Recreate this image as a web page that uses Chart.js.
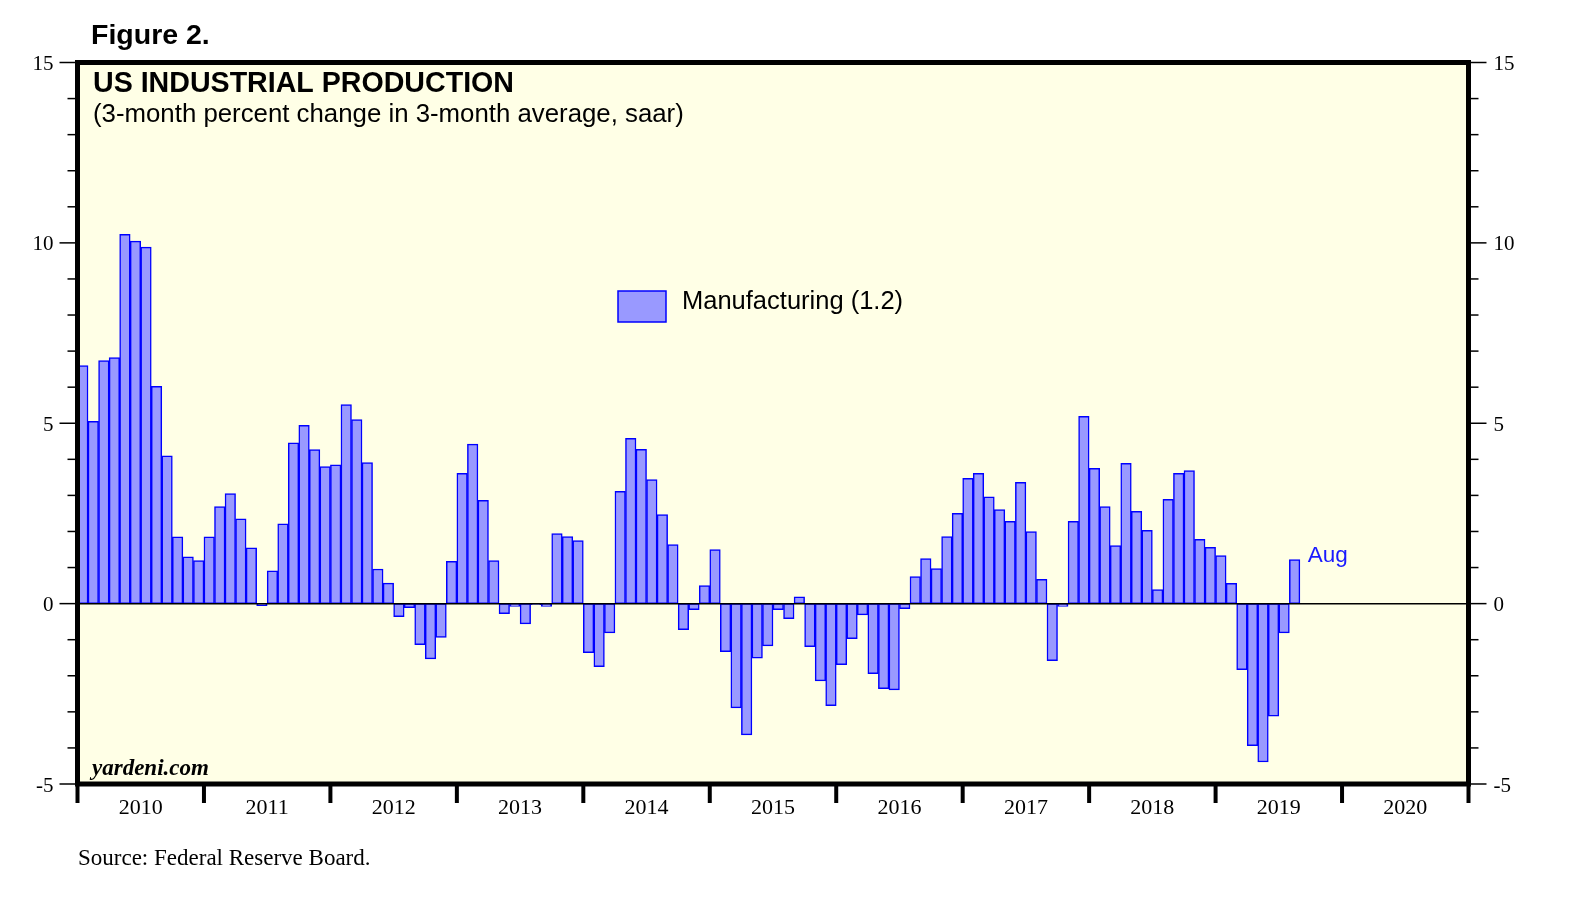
<!DOCTYPE html>
<html>
<head>
<meta charset="utf-8">
<title>US Industrial Production</title>
<script src="https://cdn.jsdelivr.net/npm/chart.js@4.4.1/dist/chart.umd.min.js"></script>
<style>
  html, body { margin: 0; padding: 0; background: #fff; }
  #wrap { width: 1580px; height: 906px; }
</style>
</head>
<body>
<div id="wrap"><canvas id="graph_ip" width="1580" height="906"></canvas></div>
<script>
// Dados

const anos = ["2010", "2011", "2012", "2013", "2014", "2015", "2016", "2017", "2018", "2019", "2020"];
const meses = ["Jan", "Feb", "Mar", "Apr", "May", "Jun", "Jul", "Aug", "Sep", "Oct", "Nov", "Dec"];

// Manufacturing, 3-month % change in 3-month average, saar (Jan 2010 - Aug 2019)
const mfg2010 = [6.6, 5.05, 6.74, 6.82, 10.24, 10.05, 9.88, 6.02, 4.1, 1.85, 1.3, 1.19];
const mfg2011 = [1.85, 2.69, 3.05, 2.35, 1.55, -0.06, 0.91, 2.21, 4.46, 4.94, 4.27, 3.8];
const mfg2012 = [3.85, 5.52, 5.1, 3.91, 0.96, 0.57, -0.36, -0.11, -1.14, -1.53, -0.94, 1.17];
const mfg2013 = [3.61, 4.42, 2.86, 1.19, -0.28, -0.08, -0.56, -0.03, -0.08, 1.94, 1.86, 1.75];
const mfg2014 = [-1.36, -1.75, -0.81, 3.11, 4.58, 4.28, 3.44, 2.47, 1.64, -0.72, -0.17, 0.5];
const mfg2015 = [1.5, -1.33, -2.89, -3.64, -1.51, -1.17, -0.17, -0.42, 0.19, -1.19, -2.14, -2.83];
const mfg2016 = [-1.69, -0.97, -0.31, -1.94, -2.36, -2.39, -0.14, 0.75, 1.25, 0.97, 1.86, 2.5];
const mfg2017 = [3.47, 3.61, 2.96, 2.61, 2.28, 3.36, 2.0, 0.67, -1.58, -0.08, 2.28, 5.19];
const mfg2018 = [3.75, 2.69, 1.61, 3.89, 2.56, 2.03, 0.39, 2.89, 3.61, 3.69, 1.78, 1.56];
const mfg2019 = [1.33, 0.56, -1.83, -3.94, -4.39, -3.12, -0.81, 1.22];

const yTicks = [-5, 0, 5, 10, 15];
const yMin = -5;
const yMax = 15;

// Monta rótulos mensais e a série

const rotulos = [];
anos.forEach((ano) => meses.forEach((m) => rotulos.push(m + " " + ano)));

const manufacturing = [].concat(
  mfg2010, mfg2011, mfg2012, mfg2013, mfg2014,
  mfg2015, mfg2016, mfg2017, mfg2018, mfg2019
);

const SANS = '"Liberation Sans", Arial, sans-serif';
const SERIF = '"Liberation Serif", "Times New Roman", serif';

// Plugin que desenha o fundo, moldura, eixos e textos

const moldura = {
  id: "moldura",
  beforeDatasetsDraw(chart) {
    const { ctx, chartArea: a } = chart;
    ctx.save();
    ctx.fillStyle = "#FFFFE6";
    ctx.fillRect(a.left, a.top, a.right - a.left, a.bottom - a.top);
    ctx.restore();
  },
  afterDatasetsDraw(chart) {
    const { ctx, chartArea: a, scales } = chart;
    const x = scales.x;
    const y = scales.y;

    function linha(x1, y1, x2, y2) {
      ctx.beginPath();
      ctx.moveTo(x1, y1);
      ctx.lineTo(x2, y2);
      ctx.stroke();
    }

    ctx.save();
    ctx.strokeStyle = "#000";

    // linha do zero
    ctx.lineWidth = 1.5;
    const y0 = y.getPixelForValue(0);
    linha(a.left, y0, a.right, y0);

    // marcas do eixo y (esquerda e direita)
    ctx.fillStyle = "#000";
    ctx.font = "21px " + SERIF;
    ctx.textBaseline = "middle";
    for (let v = yMin; v <= yMax; v++) {
      const py = y.getPixelForValue(v);
      const major = yTicks.includes(v);
      const len = major ? 18 : 10;
      ctx.lineWidth = 1.5;
      linha(a.left - len, py, a.left, py);
      linha(a.right, py, a.right + len, py);
      if (major) {
        ctx.textAlign = "right";
        ctx.fillText(String(v), a.left - 24, py + 2);
        ctx.textAlign = "left";
        ctx.fillText(String(v), a.right + 25, py + 2);
      }
    }

    // marcas e rótulos dos anos
    const passo = x.getPixelForValue(1) - x.getPixelForValue(0);
    ctx.lineWidth = 4;
    ctx.font = "22px " + SERIF;
    ctx.textAlign = "center";
    ctx.textBaseline = "alphabetic";
    for (let i = 0; i <= anos.length; i++) {
      const px = x.getPixelForValue(i * 12) - passo / 2;
      linha(px, a.bottom, px, a.bottom + 19);
      if (i < anos.length) {
        ctx.fillText(anos[i], px + passo * 6, a.bottom + 30);
      }
    }

    // moldura grossa
    ctx.lineWidth = 5;
    ctx.strokeRect(a.left, a.top, a.right - a.left, a.bottom - a.top);

    // título e subtítulo
    ctx.textAlign = "left";
    ctx.font = "bold 28.6px " + SANS;
    ctx.fillText("US INDUSTRIAL PRODUCTION", 93, 92);
    ctx.font = "25.8px " + SANS;
    ctx.fillText("(3-month percent change in 3-month average, saar)", 93, 122);

    // legenda
    ctx.fillStyle = "#9999FF";
    ctx.fillRect(618, 291, 48, 31);
    ctx.strokeStyle = "#0000FF";
    ctx.lineWidth = 1.5;
    ctx.strokeRect(618, 291, 48, 31);
    ctx.fillStyle = "#000";
    ctx.font = "25.5px " + SANS;
    ctx.fillText("Manufacturing (1.2)", 682, 309);

    // rótulo do último mês
    const ultimo = manufacturing.length - 1;
    const pxUlt = x.getPixelForValue(ultimo);
    const pyUlt = y.getPixelForValue(manufacturing[ultimo]);
    ctx.fillStyle = "#1A1AFF";
    ctx.font = "22.5px " + SANS;
    ctx.fillText("Aug", pxUlt + 13, pyUlt + 2);

    // marca d'água
    ctx.fillStyle = "#000";
    ctx.font = "italic bold 23px " + SERIF;
    ctx.fillText("yardeni.com", 92, a.bottom - 9);

    // textos fora da área
    ctx.font = "bold 28.5px " + SANS;
    ctx.fillText("Figure 2.", 91, 44);
    ctx.font = "23px " + SERIF;
    ctx.fillText("Source: Federal Reserve Board.", 78, 865);

    ctx.restore();
  },
};

// Gráfico

const graficoProducao = document.getElementById("graph_ip");

new Chart(graficoProducao, {
  type: "bar",
  data: {
    labels: rotulos,
    datasets: [
      {
        label: "Manufacturing (1.2)",
        data: manufacturing,
        backgroundColor: "#9999FF",
        borderColor: "#0000FF",
        borderWidth: 1.5,
        borderSkipped: false,
        barPercentage: 1,
        categoryPercentage: 1,
      },
    ],
  },
  options: {
    responsive: false,
    animation: false,
    devicePixelRatio: 1,
    layout: {
      padding: { left: 77.5, right: 111.5, top: 62.5, bottom: 122 },
    },
    scales: {
      x: { display: false },
      y: { display: false, min: yMin, max: yMax },
    },
    plugins: {
      legend: { display: false },
      tooltip: { enabled: false },
    },
  },
  plugins: [moldura],
});
</script>
</body>
</html>
